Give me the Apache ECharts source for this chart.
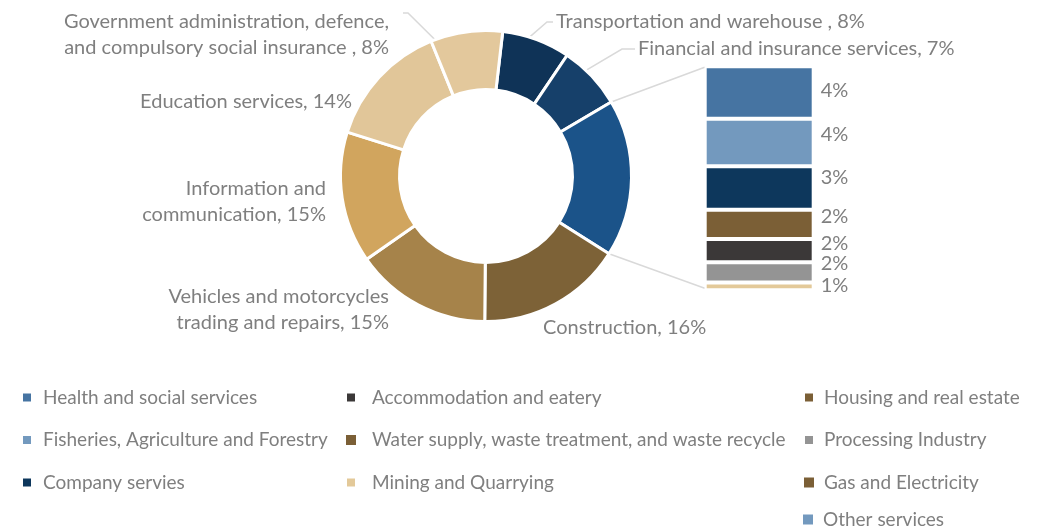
<!DOCTYPE html>
<html>
<head>
<meta charset="utf-8">
<script src="https://cdn.jsdelivr.net/npm/echarts@6/dist/echarts.min.js"></script>
<style>
  html, body { margin: 0; background: #fff; }
  #main { width: 1044px; height: 531px; }
</style>
</head>
<body>
<div id="main"></div>
<script>
// donut: main sectors, clockwise from the top
var pieNames = [
  'Transportation and warehouse ',
  'Financial and insurance services',
  'Other',
  'Construction',
  'Vehicles and motorcycles\ntrading and repairs',
  'Information and\ncommunication',
  'Education services',
  'Government administration, defence,\nand compulsory social insurance '
]
var pieValues = [7.6, 7.1, 17.5, 16.2, 15.2, 14.6, 14.0, 8.0]
var pieColors = ['#0f3357', '#16406a', '#1b5389', '#7d6237', '#a6834a', '#d1a55e', '#e1c699', '#e3c89c']

// breakdown of "Other", top to bottom
var barNames = [
  'Health and social services',
  'Fisheries, Agriculture and Forestry',
  'Company servies',
  'Housing and real estate',
  'Accommodation and eatery',
  'Processing Industry',
  'Mining and Quarrying'
]
var barValues = [4.1, 3.7, 3.4, 2.3, 1.8, 1.6, 0.6]
var barColors = ['#4674a2', '#7399be', '#0d375c', '#7b5f36', '#3b3838', '#949494', '#e3c999']

// legend-only categories
var extraNames = ['Water supply, waste treatment, and waste recycle', 'Gas and Electricity', 'Other services']
var extraColors = ['#7b5f36', '#7b5f36', '#7399be']

var legendCols = [
  ['Health and social services', 'Fisheries, Agriculture and Forestry', 'Company servies'],
  ['Accommodation and eatery', 'Water supply, waste treatment, and waste recycle', 'Mining and Quarrying'],
  ['Housing and real estate', 'Processing Industry', 'Gas and Electricity'],
  ['Other services']
]

var FONT = 'Lato'
var GREY = '#7f7f7f'
var LINE = '#d9d9d9'
var PIE_C = [486, 176]
var PIE_R = [86.5, 145.5]

// where the excel-style labels sit
var pieLabelPos = [
  { x: 556, y: 22, align: 'left' },
  { x: 638, y: 49, align: 'left' },
  null,
  { x: 543, y: 328, align: 'left' },
  { x: 389, y: 310, align: 'right' },
  { x: 326, y: 202, align: 'right' },
  { x: 352, y: 102, align: 'right' },
  { x: 389, y: 35, align: 'right' }
]
// leader lines: angle on the rim (deg from 12 o'clock), elbow, end
var pieLeaders = [
  [17.4, [547, 22], [553, 22]],
  [43.4, [622, 49], [635, 49]],
  null, null, null, null, null,
  [339.5, [408, 13], [403, 13]]
]
var barLabelShift = [-1.5, -7.7, -10, -8, -7, -9, -1.3]

function rim(deg) {
  var a = deg * Math.PI / 180
  return [PIE_C[0] + PIE_R[1] * Math.sin(a), PIE_C[1] - PIE_R[1] * Math.cos(a)]
}

var myChart = echarts.init(document.getElementById('main'))

var pieData = pieNames.map(function (n, i) {
  var item = { name: n, value: pieValues[i], itemStyle: { color: pieColors[i] } }
  if (i === 2) item.label = { show: false }
  item.labelLine = { show: !!pieLeaders[i] }
  return item
})

var barTotal = barValues.reduce(function (a, b) { return a + b }, 0)

var series = [{
  type: 'pie',
  center: PIE_C,
  radius: PIE_R,
  startAngle: 83.4,
  avoidLabelOverlap: false,
  silent: true,
  itemStyle: { borderColor: '#fff', borderWidth: 3 },
  label: {
    position: 'outside',
    color: GREY,
    fontFamily: FONT,
    fontSize: 20,
    lineHeight: 26,
    formatter: function (p) { return p.name + ', ' + Math.round(p.value) + '%' }
  },
  labelLine: { length: 15, length2: 10, lineStyle: { color: LINE, width: 1.5 } },
  labelLayout: function (p) {
    var o = pieLabelPos[p.dataIndex]
    if (!o) return {}
    var res = { x: o.x, y: o.y, align: o.align, verticalAlign: 'middle' }
    var l = pieLeaders[p.dataIndex]
    if (l) res.labelLinePoints = [rim(l[0]), l[1], l[2]]
    return res
  },
  data: pieData
}]

barNames.forEach(function (n, i) {
  series.push({
    name: n,
    type: 'bar',
    stack: 'other',
    barWidth: '100%',
    silent: true,
    itemStyle: { color: barColors[i], borderColor: '#fff', borderWidth: 2 },
    label: {
      show: true,
      position: 'right',
      distance: 7,
      offset: [0, barLabelShift[i]],
      color: GREY,
      fontFamily: FONT,
      fontSize: 20,
      formatter: function (p) { return Math.round(p.value) + '%' }
    },
    data: [barValues[i]]
  })
})
extraNames.forEach(function (n, i) {
  series.push({
    name: n, type: 'bar', stack: 'other', barWidth: '100%',
    itemStyle: { color: extraColors[i] }, data: []
  })
})

function legendAt(names, left, top, pad) {
  return {
    orient: 'vertical',
    left: left,
    top: top,
    padding: 0,
    itemGap: 23.5,
    itemWidth: 10,
    itemHeight: 10,
    icon: 'rect',
    selectedMode: false,
    textStyle: { color: GREY, fontFamily: FONT, fontSize: 19, padding: [0, 0, 0, pad] },
    data: names
  }
}

var option = {
  animation: false,
  backgroundColor: '#fff',
  grid: { left: 704.7, top: 66.3, width: 109, height: 224 },
  xAxis: { type: 'category', data: [''], show: false },
  yAxis: { type: 'value', min: 0, max: barTotal, inverse: true, show: false },
  legend: [
    legendAt(legendCols[0], 21, 388, 6),
    legendAt(legendCols[1], 345, 388, 11),
    legendAt(legendCols[2], 803, 388, 5),
    legendAt(legendCols[3], 803, 510, 5)
  ],
  series: series
}
myChart.setOption(option)

// connector lines from the "Other" sector to the breakdown bar
var seg = myChart.getModel().getSeriesByIndex(0).getData().getItemLayout(2)
var topRect = myChart.getModel().getSeriesByIndex(1).getData().getItemLayout(0)
var botRect = myChart.getModel().getSeriesByIndex(barNames.length).getData().getItemLayout(0)
function edgeY(r, lo) {
  var a = r.y, b = r.y + r.height
  return lo ? Math.max(a, b) : Math.min(a, b)
}
var p1 = [seg.cx + seg.r * Math.cos(seg.startAngle), seg.cy + seg.r * Math.sin(seg.startAngle)]
var p2 = [seg.cx + seg.r * Math.cos(seg.endAngle), seg.cy + seg.r * Math.sin(seg.endAngle)]
myChart.setOption({
  graphic: [
    { type: 'line', silent: true, shape: { x1: p1[0], y1: p1[1], x2: topRect.x, y2: edgeY(topRect, false) + 1 }, style: { stroke: LINE, lineWidth: 1.5 } },
    { type: 'line', silent: true, shape: { x1: p2[0], y1: p2[1], x2: botRect.x, y2: edgeY(botRect, true) - 2 }, style: { stroke: LINE, lineWidth: 1.5 } }
  ]
})
</script>
</body>
</html>
